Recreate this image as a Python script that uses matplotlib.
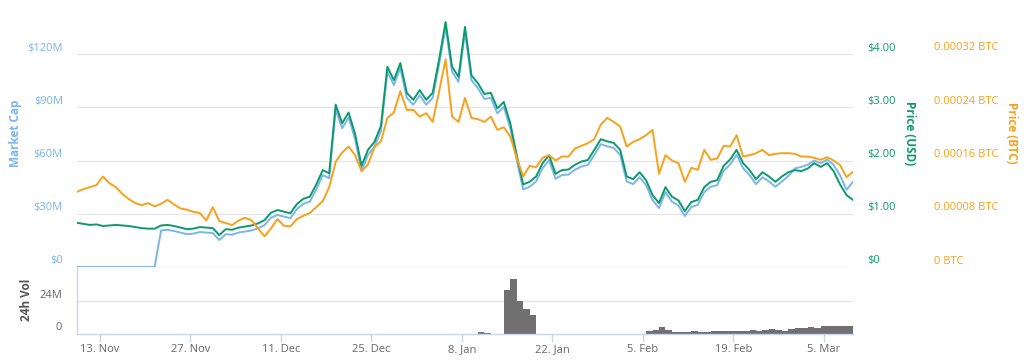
import matplotlib
matplotlib.use("Agg")
import matplotlib.pyplot as plt
import pandas as pd

plt.rcParams['font.family'] = ['Open Sans', 'DejaVu Sans']

# daily samples, 9 Nov 2017 12:00 .. 9 Mar 2018 12:00
dates = pd.date_range('2017-11-09 12:00', periods=121, freq='D')

price_usd = [
    0.83, 0.81, 0.79, 0.80, 0.77, 0.78, 0.79, 0.78, 0.77, 0.75,
    0.73, 0.72, 0.72, 0.78, 0.79, 0.77, 0.74, 0.71, 0.72, 0.75,
    0.74, 0.73, 0.60, 0.71, 0.70, 0.74, 0.76, 0.78, 0.82, 0.88,
    1.02, 1.07, 1.04, 1.01, 1.18, 1.28, 1.32, 1.55, 1.82, 1.76,
    3.05, 2.70, 2.90, 2.50, 1.90, 2.20, 2.35, 2.65, 3.76, 3.51,
    3.83, 3.27, 3.14, 3.32, 3.14, 3.27, 3.90, 4.60, 3.76, 3.57,
    4.51, 3.60, 3.45, 3.25, 3.27, 2.98, 3.10, 2.70, 2.10, 1.55,
    1.60, 1.70, 1.95, 2.10, 1.75, 1.82, 1.83, 1.92, 1.98, 2.01,
    2.20, 2.40, 2.36, 2.33, 2.20, 1.70, 1.65, 1.78, 1.63, 1.35,
    1.20, 1.50, 1.32, 1.25, 1.05, 1.22, 1.26, 1.50, 1.60, 1.63,
    1.90, 2.02, 2.20, 1.95, 1.82, 1.65, 1.78, 1.70, 1.60, 1.70,
    1.78, 1.82, 1.80, 1.85, 1.95, 1.88, 1.95, 1.80, 1.55, 1.35,
    1.26,
]

price_btc = [
    0.000113, 0.000117, 0.000120, 0.000123, 0.000136, 0.000126, 0.000120, 0.000110, 0.000102, 0.000096,
    0.000093, 0.000096, 0.000091, 0.000095, 0.000101, 0.000094, 0.000088, 0.000086, 0.000083, 0.000081,
    0.000070, 0.000090, 0.000069, 0.000066, 0.000063, 0.000070, 0.000074, 0.000070, 0.000058, 0.000046,
    0.000058, 0.000072, 0.000062, 0.000061, 0.000072, 0.000077, 0.000081, 0.000090, 0.000099, 0.000120,
    0.000158, 0.000172, 0.000181, 0.000168, 0.000144, 0.000154, 0.000180, 0.000189, 0.000224, 0.000232,
    0.000264, 0.000236, 0.000236, 0.000226, 0.000231, 0.000218, 0.000264, 0.000312, 0.000226, 0.000218,
    0.000254, 0.000224, 0.000222, 0.000218, 0.000226, 0.000206, 0.000210, 0.000196, 0.000164, 0.000136,
    0.000152, 0.000150, 0.000164, 0.000168, 0.000160, 0.000166, 0.000166, 0.000178, 0.000182, 0.000186,
    0.000192, 0.000214, 0.000224, 0.000218, 0.000211, 0.000181, 0.000188, 0.000192, 0.000198, 0.000206,
    0.000140, 0.000168, 0.000160, 0.000156, 0.000128, 0.000149, 0.000146, 0.000176, 0.000161, 0.000163,
    0.000182, 0.000181, 0.000198, 0.000166, 0.000168, 0.000171, 0.000176, 0.000168, 0.000170, 0.000171,
    0.000171, 0.000170, 0.000166, 0.000166, 0.000164, 0.000161, 0.000165, 0.000160, 0.000153, 0.000135,
    0.000143,
]

market_cap_m = [
    0, 0, 0, 0, 0, 0, 0, 0, 0, 0,
    0, 0, 0, 20.6, 20.9, 20.3, 19.4, 18.5, 18.8, 19.7,
    19.4, 19.1, 15.2, 18.5, 18.2, 19.4, 20.0, 20.6, 21.8, 23.6,
    27.8, 29.3, 28.4, 27.5, 32.6, 35.6, 36.8, 43.7, 51.8, 50.0,
    88.7, 78.2, 84.2, 72.2, 54.2, 63.2, 67.7, 76.7, 110.0, 102.5,
    112.1, 95.3, 91.4, 96.8, 91.4, 95.3, 114.2, 135.2, 110.0, 104.3,
    132.5, 105.2, 100.7, 94.7, 95.3, 86.6, 90.2, 78.2, 60.2, 43.7,
    45.2, 48.2, 55.7, 60.2, 49.7, 51.8, 52.1, 54.8, 56.6, 57.5,
    63.2, 69.2, 68.0, 67.1, 63.2, 48.2, 46.7, 50.6, 46.1, 37.7,
    33.2, 42.2, 36.8, 34.7, 28.7, 33.8, 35.0, 42.2, 45.2, 46.1,
    54.2, 57.8, 63.2, 55.7, 51.8, 46.7, 50.6, 48.2, 45.2, 48.2,
    51.2, 55.5, 56.4, 57.6, 60.0, 58.5, 60.5, 57.6, 51.6, 43.5,
    48.0,
]

volume_m = [
    0, 0, 0, 0, 0, 0, 0, 0, 0, 0,
    0, 0, 0, 0, 0, 0, 0, 0, 0, 0,
    0, 0, 0, 0, 0, 0, 0, 0, 0, 0,
    0, 0, 0, 0, 0, 0, 0, 0, 0, 0,
    0, 0, 0, 0, 0, 0, 0, 0, 0, 0,
    0, 0, 0, 0, 0, 0, 0, 0, 0, 0,
    0, 0, 1.5, 1.0, 0.3, 0, 32, 40, 24, 18,
    14, 0, 0, 0, 0, 0, 0, 0, 0, 0,
    0, 0, 0, 0, 0, 0, 0, 0, 2.5, 3.0,
    5.0, 3.0, 1.5, 1.2, 1.5, 2.0, 1.5, 1.8, 2.0, 2.2,
    2.2, 2.4, 2.3, 2.0, 2.6, 2.2, 2.8, 3.8, 3.2, 2.0,
    4.0, 4.5, 4.2, 4.8, 4.5, 5.8, 5.5, 5.9, 6.0, 5.7,
    6.2,
]

mcap_ticks = [0, 30, 60, 90, 120]
mcap_labels = ['$0', '$30M', '$60M', '$90M', '$120M']
usd_ticks = [0, 1, 2, 3, 4]
usd_labels = ['$0', '$1.00', '$2.00', '$3.00', '$4.00']
btc_ticks = [0, 0.00008, 0.00016, 0.00024, 0.00032]
btc_labels = ['0 BTC', '0.00008 BTC', '0.00016 BTC', '0.00024 BTC', '0.00032 BTC']
vol_ticks = [0, 24]
vol_labels = ['0', '24M']
date_ticks = pd.to_datetime(['2017-11-13', '2017-11-27', '2017-12-11', '2017-12-25', '2018-01-08',
                             '2018-01-22', '2018-02-05', '2018-02-19', '2018-03-05'])
date_labels = ['13. Nov', '27. Nov', '11. Dec', '25. Dec', '8. Jan', '22. Jan', '5. Feb', '19. Feb', '5. Mar']

BLUE = '#7cb5ec'
GREEN = '#0c9a6c'
ORANGE = '#f9a11b'
GRID = '#e6e6e6'
AXIS = '#ccd6eb'

W, H = 1024, 363
fig = plt.figure(figsize=(W / 100, H / 100), dpi=100)

# main price panel
ax = fig.add_axes([77 / W, 96 / H, 776 / W, 257 / H])
ax_usd = ax.twinx()
ax_btc = ax.twinx()
top = 257 / 53.25  # axis top in "$1" units

ax.set_ylim(0, top * 30)
ax_usd.set_ylim(0, top)
ax_btc.set_ylim(0, top * 0.00008)

ax.plot(dates, market_cap_m, color=BLUE, lw=1.4, zorder=3)
ax_usd.plot(dates, price_usd, color=GREEN, lw=1.4, zorder=3)
ax_btc.plot(dates, price_btc, color=ORANGE, lw=1.4, zorder=3)

ax.set_xlim(dates[0], dates[-1])
for a in (ax, ax_usd, ax_btc):
    for s in a.spines.values():
        s.set_visible(False)
    a.set_xticks([])
    a.set_yticks([])

for v in mcap_ticks:
    ax.axhline(v, color=GRID, lw=1, zorder=1)

# axis labels
lab = dict(fontsize=8, va='center')
for v, t in zip(mcap_ticks, mcap_labels):
    ax.annotate(t, xy=(0, v), xycoords=ax.get_yaxis_transform(), xytext=(-14, 6),
                textcoords='offset pixels', ha='right', color=BLUE, **lab)
for v, t in zip(usd_ticks, usd_labels):
    ax_usd.annotate(t, xy=(1, v), xycoords=ax_usd.get_yaxis_transform(), xytext=(14, 6),
                    textcoords='offset pixels', ha='left', color=GREEN, **lab)
for v, t in zip(btc_ticks, btc_labels):
    ax_btc.annotate(t, xy=(1, v), xycoords=ax_btc.get_yaxis_transform(), xytext=(81, 6),
                    textcoords='offset pixels', ha='left', color=ORANGE, **lab)

fig.text(16 / W, 1 - 133 / H, 'Market Cap', rotation=90, ha='center', va='center',
         color=BLUE, fontsize=8.5, fontweight='bold')
fig.text(909 / W, 1 - 133 / H, 'Price (USD)', rotation=270, ha='center', va='center',
         color=GREEN, fontsize=8.5, fontweight='bold')
fig.text(1012 / W, 1 - 133 / H, 'Price (BTC)', rotation=270, ha='center', va='center',
         color=ORANGE, fontsize=8.5, fontweight='bold')

# volume panel
axv = fig.add_axes([77 / W, 29 / H, 776 / W, 67 / H])
axv.bar(dates, volume_m, width=1.0, align='edge', color='#707070', linewidth=0, zorder=2)
axv.set_xlim(dates[0], dates[-1])
axv.set_ylim(0, 67 / 33 * 24)
axv.axhline(24, color=GRID, lw=1, zorder=1)
for k in ('top', 'right'):
    axv.spines[k].set_visible(False)
for k in ('left', 'bottom'):
    axv.spines[k].set_color(AXIS)
    axv.spines[k].set_linewidth(1)
axv.set_yticks([])
axv.set_xticks(date_ticks)
axv.set_xticklabels(date_labels)
axv.tick_params(axis='x', length=6, width=1, color=AXIS, labelcolor='#666666',
                labelsize=8, pad=1.5)
for v, t in zip(vol_ticks, vol_labels):
    axv.annotate(t, xy=(0, v), xycoords=axv.get_yaxis_transform(), xytext=(-15, 6),
                 textcoords='offset pixels', ha='right', va='center', color='#666666', fontsize=8)
fig.text(27 / W, 1 - 300 / H, '24h Vol', rotation=90, ha='center', va='center',
         color='#555555', fontsize=8.5, fontweight='bold')

fig.savefig('out.png', dpi=100)
